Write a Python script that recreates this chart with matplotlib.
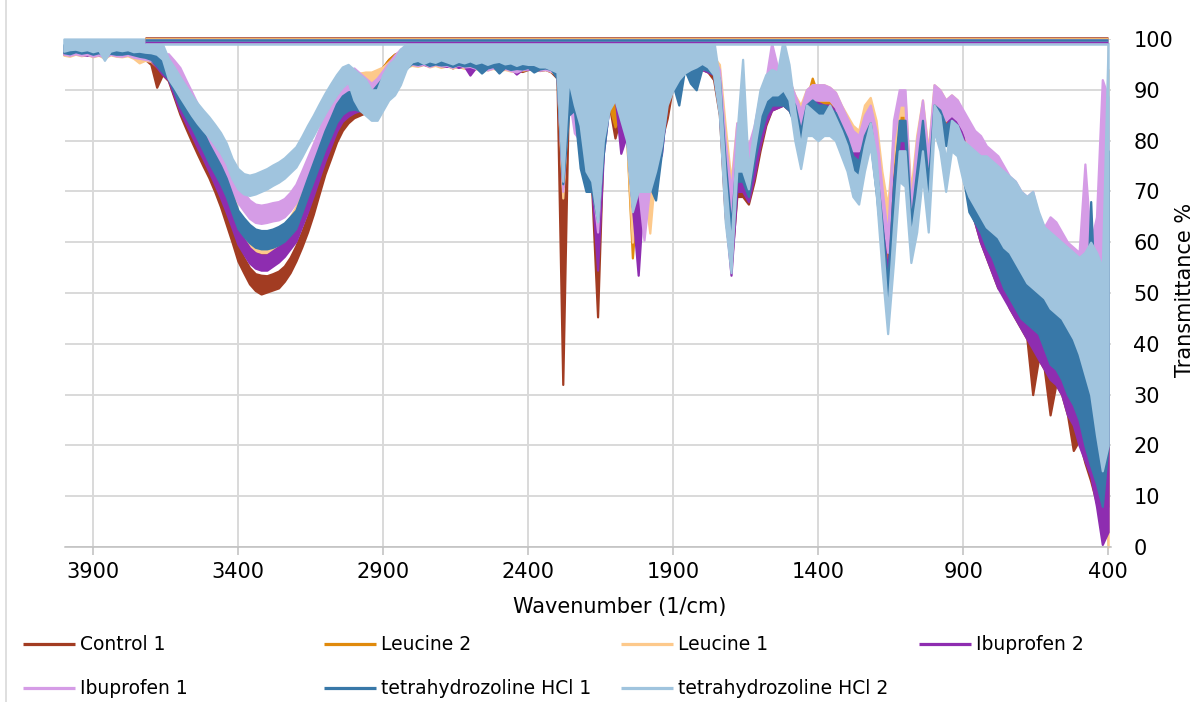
import numpy as np
import matplotlib
matplotlib.use("Agg")
import matplotlib.pyplot as plt
from matplotlib.lines import Line2D

W, H = 1194, 702

# sampled wavenumbers (1/cm), 4000 -> 400 in steps of 20 (181 points)
wavenumber = np.arange(4000, 399, -20)

series_names = ["Control 1", "Leucine 2", "Leucine 1", "Ibuprofen 2",
                "Ibuprofen 1", "tetrahydrozoline HCl 1", "tetrahydrozoline HCl 2"]
series_colors = ["#a23c22", "#e08a0c", "#fdc98b", "#8e2db0",
                 "#d59ce6", "#3878a8", "#a0c4de"]

# each spectrum is very noisy: lower / upper envelope of the trace per 20 cm-1 bin
control_1_low = [
    97.0, 96.8, 97.2, 96.9, 97.1, 96.7, 97.0, 96.5, 97.1, 96.9,
    96.8, 97.0, 96.6, 96.4, 96.0, 95.0, 90.5, 93.0, 91.8, 88.5,
    85.2, 82.5, 79.9, 77.4, 75.0, 72.7, 70.0, 67.0, 63.5, 60.0,
    56.3, 54.0, 51.8, 50.5, 49.8, 50.2, 50.6, 51.0, 52.3, 54.0,
    56.3, 59.0, 62.0, 65.5, 69.5, 73.4, 76.5, 79.7, 82.0, 83.5,
    84.5, 85.0, 85.5, 87.0, 89.5, 91.5, 93.0, 94.0, 94.5, 94.7,
    95.0, 94.8, 95.2, 94.6, 95.0, 94.7, 94.9, 94.3, 94.8, 94.5,
    94.6, 94.2, 94.5, 94.0, 94.4, 94.1, 94.3, 93.8, 94.0, 93.6,
    94.0, 94.2, 93.8, 94.0, 93.5, 92.3, 32.0, 90.0, 88.0, 83.0,
    75.0, 70.3, 45.3, 81.0, 87.0, 80.5, 85.0, 81.0, 67.0, 71.0,
    71.0, 71.0, 75.0, 80.0, 84.4, 91.0, 93.0, 94.0, 94.5, 94.5,
    94.0, 93.5, 92.0, 85.0, 65.0, 55.0, 69.0, 69.0, 67.5, 72.0,
    78.0, 83.0, 86.0, 86.5, 87.0, 86.0, 84.0, 81.0, 84.0, 85.0,
    84.0, 84.0, 84.0, 82.5, 80.0, 77.5, 75.0, 75.0, 78.0, 80.0,
    74.0, 62.0, 51.0, 68.0, 78.0, 78.0, 62.0, 72.0, 80.0, 68.0,
    84.0, 81.0, 80.0, 82.0, 80.0, 77.0, 67.0, 64.0, 60.0, 57.0,
    54.0, 51.0, 50.0, 47.0, 45.0, 43.0, 41.0, 30.0, 37.0, 35.0,
    26.0, 32.0, 30.0, 26.0, 19.0, 21.0, 16.6, 13.0, 8.7, 5.0,
    10.0,
]
control_1_high = [
    98.6, 98.4, 98.8, 98.5, 98.7, 98.3, 98.6, 98.2, 98.7, 98.5,
    98.4, 98.6, 98.2, 98.0, 97.8, 97.5, 96.5, 95.5, 94.8, 91.5,
    88.2, 85.5, 82.9, 80.4, 78.0, 75.7, 73.0, 70.0, 66.5, 63.0,
    59.3, 57.0, 55.0, 53.8, 53.5, 53.4, 53.8, 54.3, 55.3, 57.0,
    59.3, 62.0, 65.0, 68.5, 72.5, 76.4, 79.5, 82.7, 85.0, 86.5,
    87.5, 88.0, 88.5, 90.0, 92.5, 94.5, 96.0, 97.0, 97.5, 97.7,
    97.3, 97.0, 97.5, 97.2, 97.4, 97.0, 97.3, 96.8, 97.1, 96.9,
    97.0, 96.6, 96.9, 96.5, 96.8, 96.5, 96.7, 96.3, 96.5, 96.2,
    96.5, 96.6, 96.3, 96.5, 96.2, 96.0, 95.0, 95.0, 94.0, 92.0,
    90.0, 88.0, 86.0, 90.0, 93.0, 94.0, 93.0, 92.0, 90.0, 90.0,
    90.0, 90.0, 91.0, 93.0, 95.0, 96.0, 96.5, 97.0, 97.0, 97.0,
    97.0, 96.5, 95.5, 90.0, 72.0, 60.0, 72.5, 72.0, 70.0, 76.0,
    81.0, 86.5, 89.0, 89.0, 89.5, 89.0, 87.0, 84.0, 87.0, 88.0,
    87.0, 87.0, 87.0, 85.5, 83.0, 81.0, 78.0, 78.0, 81.0, 83.0,
    77.0, 66.0, 54.0, 72.0, 82.0, 82.0, 66.0, 76.0, 83.0, 72.0,
    87.0, 85.0, 83.0, 85.0, 84.0, 81.0, 76.0, 74.0, 69.0, 67.0,
    65.0, 62.0, 60.0, 58.0, 56.0, 55.0, 53.0, 51.0, 49.0, 47.0,
    45.0, 44.0, 42.0, 40.0, 38.0, 35.0, 32.0, 29.0, 25.0, 25.0,
    30.0,
]

leucine_2_low = [
    97.0, 96.8, 97.2, 96.9, 97.0, 96.8, 97.1, 96.4, 97.0, 96.8,
    96.9, 97.0, 96.6, 96.2, 96.0, 95.9, 94.8, 93.5, 92.5, 90.0,
    87.3, 85.0, 82.6, 80.2, 77.9, 75.5, 72.9, 70.3, 67.4, 64.3,
    61.1, 59.2, 57.4, 56.4, 56.0, 56.0, 56.8, 57.6, 58.7, 60.2,
    61.7, 64.6, 67.5, 70.7, 74.1, 77.5, 80.4, 83.3, 85.3, 86.3,
    87.5, 88.0, 88.5, 89.0, 90.0, 91.5, 93.0, 94.2, 94.8, 95.0,
    95.2, 94.9, 95.1, 94.7, 95.0, 94.6, 94.8, 94.5, 94.9, 94.4,
    94.6, 94.3, 94.5, 94.1, 94.4, 94.0, 94.2, 93.9, 93.8, 93.8,
    94.2, 94.3, 94.0, 94.2, 93.9, 93.5, 70.0, 89.0, 87.0, 79.7,
    72.0, 70.5, 63.0, 81.0, 87.0, 82.7, 85.0, 81.0, 56.9, 71.0,
    71.0, 71.0, 75.0, 80.0, 88.0, 91.0, 93.0, 94.0, 94.5, 95.0,
    94.3, 94.0, 93.2, 87.0, 71.0, 58.0, 76.0, 74.0, 70.0, 74.0,
    80.0, 84.0, 87.0, 87.0, 87.5, 87.0, 85.0, 83.0, 86.0, 86.0,
    86.0, 86.0, 86.0, 85.0, 82.0, 80.0, 78.0, 77.0, 80.0, 83.0,
    77.0, 65.0, 56.0, 72.0, 82.0, 82.0, 64.0, 74.0, 83.0, 72.0,
    86.0, 84.0, 82.0, 84.0, 82.0, 79.0, 76.0, 73.0, 70.0, 67.0,
    65.0, 62.0, 60.0, 58.0, 56.0, 54.0, 52.0, 50.0, 48.0, 45.0,
    43.0, 41.0, 39.0, 37.0, 35.0, 32.0, 29.0, 25.0, 20.0, 14.0,
    8.0,
]
leucine_2_high = [
    98.6, 98.5, 98.8, 98.5, 98.6, 98.4, 98.7, 98.1, 98.6, 98.4,
    98.5, 98.6, 98.2, 97.9, 97.7, 97.6, 96.8, 96.0, 95.3, 93.0,
    90.3, 88.0, 85.6, 83.2, 80.9, 78.5, 75.9, 73.3, 70.4, 67.3,
    64.1, 62.2, 60.4, 59.4, 59.0, 59.0, 59.8, 60.6, 61.7, 63.2,
    64.7, 67.6, 70.5, 73.7, 77.1, 80.5, 83.4, 86.3, 88.3, 89.3,
    90.5, 91.0, 91.5, 92.0, 93.0, 94.5, 96.0, 97.0, 97.5, 97.7,
    97.5, 97.2, 97.4, 97.0, 97.3, 96.9, 97.1, 96.8, 97.2, 96.7,
    96.9, 96.6, 96.8, 96.4, 96.7, 96.3, 96.5, 96.2, 96.1, 96.1,
    96.5, 96.6, 96.3, 96.5, 96.2, 95.8, 94.0, 94.0, 93.0, 91.0,
    90.0, 88.0, 86.0, 90.0, 93.0, 94.0, 93.0, 92.0, 90.0, 90.0,
    90.0, 90.0, 91.0, 93.0, 95.0, 96.0, 96.5, 97.0, 97.0, 97.0,
    97.2, 97.0, 96.0, 93.0, 79.0, 64.0, 80.0, 78.0, 74.0, 78.0,
    84.0, 88.0, 90.0, 90.0, 90.0, 90.0, 88.0, 86.0, 88.0, 92.3,
    89.0, 89.0, 89.0, 88.0, 85.0, 83.0, 81.0, 80.0, 84.0, 87.0,
    81.0, 70.0, 60.0, 76.0, 86.0, 86.0, 68.0, 78.0, 86.5, 76.0,
    90.0, 88.0, 86.0, 87.0, 86.0, 83.0, 80.0, 78.0, 75.0, 72.0,
    70.0, 68.0, 66.0, 64.0, 62.0, 60.0, 58.0, 56.0, 54.0, 52.0,
    50.0, 48.0, 46.0, 45.0, 44.0, 43.0, 42.0, 63.0, 40.0, 38.0,
    40.0,
]

leucine_1_low = [
    96.8, 96.6, 97.0, 96.7, 96.9, 96.5, 96.8, 96.2, 96.9, 96.6,
    96.5, 96.7, 96.2, 95.3, 95.8, 95.6, 94.6, 93.5, 93.0, 91.0,
    88.5, 86.5, 84.5, 82.2, 79.9, 77.5, 75.5, 73.3, 70.5, 67.0,
    63.0, 61.0, 59.2, 58.3, 58.0, 58.0, 58.5, 59.3, 60.5, 62.0,
    64.0, 67.1, 70.5, 73.5, 76.5, 79.5, 82.5, 85.5, 87.5, 89.0,
    90.0, 90.3, 90.5, 90.5, 91.0, 91.5, 92.5, 93.5, 94.0, 94.5,
    94.8, 94.6, 95.0, 94.5, 94.8, 94.4, 94.7, 94.3, 94.6, 94.2,
    94.5, 94.1, 94.3, 93.9, 94.2, 93.8, 94.0, 93.7, 93.6, 93.9,
    94.0, 94.2, 93.8, 94.0, 93.6, 93.0, 68.7, 89.0, 87.0, 81.0,
    75.0, 72.0, 63.0, 81.0, 87.0, 89.0, 85.0, 81.0, 60.0, 71.0,
    71.0, 61.8, 75.0, 80.0, 88.0, 91.0, 93.0, 94.0, 94.5, 95.0,
    94.2, 94.0, 93.0, 88.6, 76.0, 68.0, 80.0, 79.0, 76.0, 79.0,
    84.0, 87.0, 88.0, 88.0, 88.0, 88.0, 86.0, 84.0, 87.0, 88.0,
    88.0, 88.0, 88.0, 87.0, 84.0, 82.0, 80.0, 79.0, 83.0, 85.0,
    80.0, 70.0, 64.0, 77.0, 85.0, 85.0, 66.0, 77.0, 85.0, 74.0,
    88.0, 86.0, 84.0, 85.0, 84.0, 81.0, 78.0, 75.0, 72.0, 69.0,
    66.0, 64.0, 62.0, 60.0, 58.0, 56.0, 54.0, 52.0, 50.0, 48.0,
    46.0, 45.0, 44.0, 42.0, 41.0, 39.0, 37.0, 34.0, 30.0, 20.0,
    0.0,
]
leucine_1_high = [
    98.4, 98.2, 98.6, 98.3, 98.5, 98.1, 98.4, 97.9, 98.5, 98.2,
    98.2, 98.4, 97.9, 97.5, 97.6, 97.4, 96.8, 96.2, 96.0, 94.0,
    91.5, 89.5, 87.5, 85.2, 82.9, 80.5, 78.5, 76.3, 73.5, 70.0,
    66.0, 64.0, 62.2, 61.3, 61.0, 61.0, 61.5, 62.3, 63.5, 65.0,
    67.0, 70.1, 73.5, 76.5, 79.5, 82.5, 85.5, 88.5, 90.5, 92.0,
    93.0, 93.3, 93.5, 93.5, 94.0, 94.5, 95.5, 96.5, 97.0, 97.5,
    97.3, 97.0, 97.4, 96.9, 97.2, 96.8, 97.1, 96.7, 97.0, 96.6,
    96.9, 96.5, 96.7, 96.3, 96.6, 96.2, 96.4, 96.1, 96.0, 96.2,
    96.4, 96.6, 96.2, 96.4, 96.0, 95.6, 94.0, 94.0, 93.0, 91.0,
    90.0, 88.0, 86.0, 90.0, 93.0, 94.0, 93.0, 92.0, 90.0, 90.0,
    90.0, 90.0, 91.0, 93.0, 95.0, 96.0, 96.5, 97.0, 97.0, 97.0,
    97.5, 97.2, 96.5, 95.0, 83.0, 72.0, 83.5, 82.0, 79.0, 82.0,
    88.0, 91.0, 92.0, 92.0, 92.0, 92.0, 89.0, 87.0, 90.0, 91.0,
    91.0, 91.0, 90.5, 89.5, 87.0, 85.0, 83.0, 82.0, 87.0, 88.5,
    84.0, 74.0, 67.0, 81.0, 89.0, 88.5, 70.0, 81.0, 88.0, 78.0,
    91.0, 90.0, 88.0, 89.0, 88.0, 85.0, 82.0, 80.0, 77.0, 74.0,
    75.0, 73.0, 71.0, 69.0, 67.0, 65.0, 63.0, 61.0, 59.0, 57.0,
    55.0, 54.0, 53.0, 52.0, 51.0, 50.0, 48.0, 46.0, 44.0, 45.0,
    94.0,
]

ibuprofen_2_low = [
    97.1, 96.9, 97.3, 97.0, 96.8, 97.2, 96.9, 96.6, 97.0, 97.2,
    96.9, 97.1, 96.7, 96.5, 96.2, 95.8, 94.5, 93.0, 92.0, 88.9,
    85.8, 83.5, 81.1, 78.7, 76.4, 74.0, 71.4, 68.8, 65.9, 62.8,
    59.6, 57.7, 55.9, 54.9, 54.5, 54.5, 55.3, 56.1, 57.2, 58.7,
    60.2, 63.1, 66.0, 69.2, 72.6, 76.0, 78.9, 81.8, 83.8, 84.8,
    85.5, 85.9, 86.3, 87.3, 88.9, 90.5, 92.1, 93.7, 94.5, 94.8,
    95.1, 94.9, 95.0, 94.7, 95.1, 94.8, 94.6, 94.9, 94.4, 94.7,
    92.9, 94.4, 94.6, 94.2, 94.5, 94.0, 94.2, 94.3, 93.1, 94.0,
    94.0, 94.3, 93.9, 94.1, 93.8, 93.3, 70.9, 89.0, 87.0, 82.0,
    75.0, 71.0, 54.5, 77.5, 87.0, 89.0, 77.5, 81.0, 67.0, 53.5,
    71.0, 71.0, 75.0, 77.2, 88.0, 91.0, 93.0, 94.0, 94.5, 95.0,
    94.0, 93.5, 93.0, 86.0, 66.0, 53.5, 70.0, 70.0, 68.0, 73.0,
    79.0, 83.5, 86.0, 86.5, 87.0, 86.0, 84.0, 81.0, 84.0, 85.0,
    84.0, 84.0, 84.0, 82.5, 80.0, 78.0, 75.5, 75.0, 78.0, 80.5,
    74.0, 61.0, 51.0, 68.0, 78.0, 78.0, 62.0, 72.0, 80.0, 68.0,
    84.0, 81.0, 80.0, 82.0, 80.0, 77.0, 67.0, 64.0, 60.0, 57.0,
    54.0, 51.0, 49.0, 47.0, 45.0, 43.0, 41.0, 39.0, 37.0, 35.0,
    33.0, 32.0, 30.0, 26.0, 24.0, 20.0, 17.0, 14.0, 8.0, 0.5,
    3.0,
]
ibuprofen_2_high = [
    98.5, 98.3, 98.7, 98.4, 98.2, 98.6, 98.3, 98.0, 98.4, 98.6,
    98.3, 98.5, 98.1, 97.9, 97.7, 97.4, 96.5, 95.5, 95.0, 91.9,
    88.8, 86.5, 84.1, 81.7, 79.4, 77.0, 74.4, 71.8, 68.9, 65.8,
    62.6, 60.7, 58.9, 57.9, 57.5, 57.5, 58.3, 59.1, 60.2, 61.7,
    63.2, 66.1, 69.0, 72.2, 75.6, 79.0, 81.9, 84.8, 86.8, 87.8,
    88.5, 88.9, 89.3, 90.3, 91.9, 93.5, 95.1, 96.7, 97.5, 97.8,
    97.4, 97.2, 97.5, 97.0, 97.3, 97.1, 96.9, 97.2, 96.7, 97.0,
    96.5, 96.7, 96.9, 96.5, 96.8, 96.3, 96.5, 96.6, 96.2, 96.3,
    96.5, 96.6, 96.2, 96.4, 96.1, 95.8, 94.0, 94.0, 93.0, 91.0,
    90.0, 88.0, 86.0, 90.0, 93.0, 94.0, 93.0, 92.0, 90.0, 90.0,
    90.0, 90.0, 91.0, 93.0, 95.0, 96.0, 96.5, 97.0, 97.0, 97.0,
    97.0, 96.5, 95.5, 91.0, 74.0, 58.0, 73.5, 73.0, 71.0, 77.0,
    82.0, 87.0, 89.0, 89.0, 90.0, 89.0, 87.0, 84.0, 87.0, 88.0,
    87.5, 87.0, 87.0, 86.0, 83.5, 81.0, 78.5, 78.0, 81.0, 83.5,
    77.0, 65.0, 54.0, 72.0, 82.0, 82.0, 66.0, 76.0, 83.0, 72.0,
    87.0, 85.0, 83.0, 85.0, 84.0, 81.0, 75.0, 73.0, 71.0, 69.0,
    64.0, 62.0, 60.0, 58.0, 56.0, 54.0, 52.0, 50.0, 48.0, 46.0,
    44.0, 43.0, 41.0, 39.0, 37.0, 34.0, 31.0, 28.0, 25.0, 30.0,
    40.0,
]

ibuprofen_1_low = [
    97.0, 96.8, 97.1, 96.8, 97.0, 96.6, 96.9, 96.4, 97.0, 96.7,
    96.6, 96.9, 96.4, 96.2, 96.0, 95.8, 95.3, 94.8, 93.5, 92.2,
    90.8, 88.4, 86.1, 83.7, 81.4, 79.0, 76.9, 74.8, 72.5, 70.2,
    67.8, 66.2, 64.7, 63.9, 63.7, 63.9, 64.2, 64.4, 65.0, 66.2,
    67.8, 70.4, 73.1, 75.8, 78.7, 81.6, 83.7, 85.8, 87.7, 89.7,
    90.7, 89.7, 88.7, 87.7, 88.7, 90.2, 91.7, 93.2, 94.7, 95.2,
    95.0, 94.8, 95.1, 94.6, 95.0, 94.7, 94.8, 94.4, 94.9, 94.5,
    94.6, 94.2, 94.5, 93.9, 94.3, 94.0, 94.2, 93.8, 93.5, 94.0,
    94.1, 94.3, 93.9, 94.0, 93.7, 93.2, 70.0, 89.0, 81.5, 80.0,
    74.0, 72.0, 62.0, 81.0, 87.0, 89.0, 85.0, 81.0, 67.0, 71.0,
    60.4, 71.0, 75.0, 80.0, 88.0, 91.0, 93.0, 94.0, 94.5, 95.0,
    94.2, 94.0, 93.2, 88.0, 71.0, 64.5, 78.0, 79.0, 75.0, 79.0,
    85.0, 88.0, 89.0, 90.0, 90.0, 88.0, 86.0, 83.0, 87.0, 88.0,
    88.0, 88.0, 88.0, 86.5, 83.5, 81.0, 78.0, 78.0, 81.0, 84.0,
    77.0, 66.0, 58.0, 80.0, 87.0, 87.0, 62.0, 75.0, 85.0, 73.0,
    88.0, 86.0, 84.0, 85.0, 84.0, 82.0, 79.0, 77.0, 76.0, 73.0,
    68.0, 66.0, 63.0, 60.0, 58.0, 55.0, 53.0, 52.0, 50.0, 48.0,
    47.0, 46.0, 45.0, 44.0, 43.0, 42.0, 41.0, 40.0, 38.0, 35.0,
    30.0,
]
ibuprofen_1_high = [
    98.6, 98.4, 98.7, 98.4, 98.6, 98.2, 98.5, 98.0, 98.6, 98.3,
    98.2, 98.5, 98.0, 97.8, 97.6, 97.5, 97.3, 97.0, 97.1, 95.8,
    94.4, 92.0, 89.7, 87.3, 85.0, 82.6, 80.5, 78.4, 76.1, 73.8,
    71.4, 69.8, 68.3, 67.5, 67.3, 67.5, 67.8, 68.0, 68.6, 69.8,
    71.4, 74.0, 76.7, 79.4, 82.3, 85.2, 87.3, 89.4, 91.3, 93.3,
    94.3, 93.3, 92.3, 91.3, 92.3, 93.8, 95.3, 96.8, 98.0, 98.5,
    97.6, 97.3, 97.6, 97.1, 97.5, 97.2, 97.3, 96.9, 97.3, 96.9,
    97.0, 96.6, 96.9, 96.4, 96.7, 96.4, 96.6, 96.2, 96.0, 96.4,
    96.5, 96.6, 96.2, 96.4, 96.1, 95.8, 94.0, 94.0, 93.0, 91.0,
    90.0, 88.0, 86.0, 90.0, 93.0, 94.0, 93.0, 92.0, 90.0, 90.0,
    90.0, 90.0, 91.0, 93.0, 95.0, 96.0, 96.5, 97.0, 97.0, 97.0,
    97.5, 97.2, 96.5, 94.0, 80.0, 70.0, 83.5, 82.0, 79.0, 83.0,
    89.0, 92.0, 99.2, 94.5, 94.0, 92.0, 89.0, 86.0, 90.0, 91.0,
    91.0, 91.0, 90.5, 89.5, 87.0, 84.5, 82.0, 81.0, 85.0, 87.0,
    82.0, 71.0, 61.0, 84.0, 90.0, 90.0, 67.0, 80.0, 88.0, 77.0,
    91.0, 90.0, 88.0, 89.0, 88.0, 86.0, 84.0, 82.0, 81.0, 79.0,
    78.0, 77.0, 75.0, 73.0, 72.0, 70.0, 69.0, 70.0, 65.0, 63.0,
    65.0, 64.0, 62.0, 60.0, 59.0, 58.0, 75.4, 60.0, 65.0, 92.0,
    88.6,
]

thz_hcl_1_low = [
    97.3, 97.1, 97.5, 97.2, 97.4, 97.0, 97.3, 96.8, 97.2, 97.0,
    97.0, 97.2, 96.9, 96.6, 96.4, 96.0, 94.8, 93.5, 92.2, 89.7,
    86.8, 84.7, 82.7, 80.4, 78.1, 75.7, 73.6, 71.5, 69.0, 65.8,
    62.7, 61.2, 59.9, 59.0, 58.7, 58.7, 59.0, 59.5, 60.2, 61.4,
    62.7, 65.8, 69.0, 72.1, 75.2, 78.3, 80.9, 83.6, 85.2, 86.0,
    86.2, 85.9, 85.6, 86.0, 87.4, 88.8, 90.4, 92.0, 93.2, 94.2,
    95.2, 95.0, 95.3, 94.8, 95.1, 94.9, 95.0, 94.6, 95.0, 94.7,
    94.8, 94.4, 93.3, 94.3, 94.6, 93.3, 94.4, 94.0, 94.2, 94.1,
    94.4, 93.5, 94.1, 94.3, 94.0, 92.3, 71.5, 85.0, 86.0, 74.6,
    70.0, 70.0, 64.4, 77.5, 87.0, 89.0, 85.0, 81.0, 67.0, 71.0,
    71.0, 71.0, 68.3, 77.5, 88.0, 91.0, 87.0, 94.0, 91.3, 90.0,
    94.2, 93.8, 93.0, 86.0, 68.0, 58.5, 72.0, 72.0, 69.0, 76.0,
    81.0, 85.0, 87.0, 87.0, 87.0, 86.0, 83.0, 79.0, 84.0, 85.0,
    84.0, 84.0, 84.0, 82.5, 80.0, 77.0, 73.5, 72.5, 77.0, 80.0,
    70.0, 59.0, 48.5, 67.0, 80.0, 80.0, 60.0, 70.0, 80.0, 68.0,
    84.0, 82.0, 79.0, 80.0, 78.0, 73.0, 66.0, 64.0, 62.0, 59.0,
    57.0, 54.0, 51.0, 49.0, 47.0, 45.0, 44.0, 43.0, 42.0, 39.0,
    36.0, 35.0, 33.0, 30.0, 28.0, 25.0, 20.0, 16.0, 12.5, 8.0,
    20.0,
]
thz_hcl_1_high = [
    98.9, 98.7, 99.1, 98.8, 99.0, 98.6, 98.9, 98.4, 98.8, 98.6,
    98.6, 98.8, 98.5, 98.2, 98.0, 97.6, 96.8, 96.0, 95.8, 93.3,
    90.4, 88.3, 86.3, 84.0, 81.7, 79.3, 77.2, 75.1, 72.6, 69.4,
    66.3, 64.8, 63.5, 62.6, 62.3, 62.3, 62.6, 63.1, 63.8, 65.0,
    66.3, 69.4, 72.6, 75.7, 78.8, 81.9, 84.5, 87.2, 88.8, 89.6,
    89.8, 89.5, 89.2, 89.6, 91.0, 92.4, 94.0, 95.6, 96.8, 97.8,
    97.6, 97.4, 97.7, 97.2, 97.5, 97.3, 97.4, 97.0, 97.4, 97.1,
    97.2, 96.8, 97.0, 96.7, 97.0, 96.6, 96.8, 96.4, 96.6, 96.5,
    96.8, 96.5, 96.5, 96.7, 96.4, 96.0, 94.0, 94.0, 93.0, 91.0,
    90.0, 88.0, 86.0, 90.0, 93.0, 94.0, 93.0, 92.0, 90.0, 90.0,
    90.0, 90.0, 91.0, 93.0, 95.0, 96.0, 96.5, 97.0, 97.0, 97.0,
    97.2, 97.0, 96.0, 92.0, 76.0, 63.0, 78.0, 76.0, 72.0, 80.0,
    85.0, 88.5, 90.0, 90.0, 91.0, 89.0, 87.0, 82.0, 87.0, 88.0,
    87.0, 87.0, 86.5, 85.5, 83.0, 80.5, 77.0, 76.0, 81.0, 83.5,
    75.0, 64.0, 52.0, 71.0, 84.0, 84.0, 64.0, 74.0, 84.0, 72.0,
    87.0, 86.0, 83.0, 84.0, 83.0, 78.0, 75.0, 73.0, 71.0, 69.0,
    68.0, 66.0, 64.0, 62.0, 60.0, 58.0, 57.0, 55.0, 54.0, 52.0,
    50.0, 49.0, 47.0, 45.0, 43.0, 40.0, 37.0, 68.0, 40.0, 40.0,
    78.0,
]

thz_hcl_2_low = [
    97.6, 97.9, 98.0, 97.7, 97.9, 97.5, 97.8, 95.8, 97.6, 97.9,
    97.7, 97.9, 97.5, 97.6, 97.4, 97.3, 97.0, 96.0, 92.2, 90.5,
    88.6, 86.8, 85.0, 83.4, 82.0, 80.7, 79.2, 77.6, 75.5, 72.5,
    70.5, 69.5, 69.2, 69.5, 70.0, 70.5, 71.2, 71.8, 72.6, 73.7,
    74.8, 76.8, 79.0, 81.0, 83.2, 85.3, 87.2, 89.0, 90.5, 91.5,
    88.0, 86.0, 85.0, 84.0, 84.0, 86.0, 88.0, 89.0, 91.0, 94.0,
    95.5, 95.8, 95.2, 95.7, 95.4, 95.9, 95.5, 95.1, 95.6, 95.3,
    95.7, 95.2, 95.5, 95.0, 95.4, 95.6, 95.1, 95.3, 94.8, 95.2,
    95.0, 95.0, 94.5, 94.5, 94.0, 93.5, 72.0, 92.0, 87.0, 83.0,
    74.0, 72.0, 64.0, 80.0, 86.0, 88.0, 84.0, 80.0, 66.0, 70.0,
    70.0, 70.0, 74.0, 79.0, 87.0, 90.0, 92.0, 93.3, 94.0, 94.5,
    95.2, 94.5, 93.0, 85.0, 64.0, 54.0, 74.0, 74.0, 70.5, 78.0,
    85.0, 88.0, 89.0, 89.0, 90.0, 88.0, 80.0, 74.5, 81.0, 81.0,
    80.0, 81.0, 81.0, 80.0, 77.0, 74.0, 69.0, 67.5, 74.0, 79.0,
    70.0, 55.0, 42.0, 56.0, 72.0, 71.0, 56.0, 62.0, 73.0, 62.0,
    82.0, 78.0, 70.0, 78.0, 77.0, 72.0, 69.0, 67.0, 65.0, 63.0,
    62.0, 61.0, 59.0, 58.0, 56.0, 54.0, 52.0, 51.0, 50.0, 49.0,
    47.0, 46.0, 45.0, 43.0, 41.0, 38.0, 34.0, 30.0, 22.0, 15.0,
    20.0,
]
thz_hcl_2_high = [
    100.0, 100.0, 100.0, 100.0, 100.0, 100.0, 100.0, 100.0, 100.0, 100.0,
    100.0, 100.0, 100.0, 100.0, 100.0, 99.5, 99.5, 99.0, 96.2, 94.5,
    92.6, 90.8, 89.0, 87.4, 86.0, 84.7, 83.2, 81.6, 79.5, 76.5,
    74.5, 73.5, 73.2, 73.5, 74.0, 74.5, 75.2, 75.8, 76.6, 77.7,
    78.8, 80.8, 83.0, 85.0, 87.2, 89.3, 91.2, 93.0, 94.5, 95.0,
    94.0, 93.0, 92.0, 90.0, 90.0, 93.0, 95.0, 96.0, 98.0, 99.0,
    100.0, 100.0, 100.0, 100.0, 100.0, 100.0, 100.0, 100.0, 100.0, 100.0,
    100.0, 100.0, 100.0, 100.0, 100.0, 100.0, 100.0, 100.0, 100.0, 100.0,
    100.0, 100.0, 100.0, 100.0, 100.0, 100.0, 100.0, 100.0, 100.0, 100.0,
    100.0, 100.0, 100.0, 100.0, 100.0, 100.0, 100.0, 100.0, 100.0, 100.0,
    100.0, 100.0, 100.0, 100.0, 100.0, 100.0, 100.0, 100.0, 100.0, 100.0,
    100.0, 100.0, 100.0, 92.0, 73.0, 59.0, 81.0, 96.0, 74.0, 83.0,
    90.0, 93.0, 94.0, 93.5, 100.0, 95.0, 86.0, 79.0, 87.0, 86.0,
    85.0, 85.0, 87.0, 84.5, 82.0, 79.0, 74.0, 73.0, 79.0, 83.5,
    77.0, 62.0, 46.0, 63.0, 78.0, 78.0, 61.0, 69.0, 78.0, 67.0,
    87.0, 85.0, 76.0, 84.0, 83.0, 80.0, 79.0, 78.0, 77.0, 77.0,
    76.0, 75.0, 74.0, 73.0, 72.0, 70.0, 69.0, 70.0, 66.0, 63.0,
    62.0, 61.0, 60.0, 59.0, 58.0, 57.0, 58.0, 60.0, 58.0, 55.0,
    99.2,
]

# each trace also returns along the top of the chart (from 400 back to 3720 1/cm)
return_level = [100.1, 100.0, 100.0, 99.5, 99.8, 99.9, 99.1]
return_span = [400, 3720]

lows = [control_1_low, leucine_2_low, leucine_1_low, ibuprofen_2_low,
        ibuprofen_1_low, thz_hcl_1_low, thz_hcl_2_low]
highs = [control_1_high, leucine_2_high, leucine_1_high, ibuprofen_2_high,
         ibuprofen_1_high, thz_hcl_1_high, thz_hcl_2_high]
for lo, hi in zip(lows, highs):
    assert len(lo) == len(wavenumber) and len(hi) == len(wavenumber), (len(lo), len(hi))

x_ticks = [3900, 3400, 2900, 2400, 1900, 1400, 900, 400]
y_ticks = [0, 10, 20, 30, 40, 50, 60, 70, 80, 90, 100]

plt.rcParams["font.family"] = ["DejaVu Sans"]
fig = plt.figure(figsize=(W / 100, H / 100), dpi=100)
ax = fig.add_axes([65 / W, 1 - 547 / H, (1111 - 65) / W, (547 - 39) / H])

for name, col, lo, hi, lvl in zip(series_names, series_colors, lows, highs, return_level):
    ax.plot(return_span, [lvl, lvl], color=col, lw=1.8, clip_on=False, solid_capstyle="butt")
    ax.fill_between(wavenumber, lo, hi, color=col, lw=1.6, clip_on=False)

ax.set_xlim(3996, 390)
ax.set_ylim(0, 100)
ax.set_xticks(x_ticks)
ax.set_xticklabels([str(t) for t in x_ticks])
ax.set_yticks(y_ticks)
ax.set_yticklabels([str(t) for t in y_ticks])

for s in ["top", "left", "right"]:
    ax.spines[s].set_visible(False)
ax.spines["bottom"].set_color("#bfbfbf")
ax.spines["bottom"].set_linewidth(1.1)

ax.grid(True, color="#d9d9d9", lw=1.4)
ax.set_axisbelow(True)

ax.tick_params(axis="x", direction="out", length=5.8, width=1.1, color="#bfbfbf",
               pad=5, labelsize=15, labelcolor="black")
ax.tick_params(axis="y", length=0, pad=16, labelsize=15, labelcolor="black",
               left=False, right=False, labelleft=False, labelright=True)

ax.set_xlabel("Wavenumber (1/cm)", fontsize=15)
ax.xaxis.set_label_coords(0.5306, -0.118)
ax.xaxis.label.set_va("center")

ax.set_ylabel("Transmittance %", fontsize=15)
ax.yaxis.set_label_position("right")
ax.yaxis.set_label_coords(1.0707, 0.506)
ax.yaxis.label.set_va("center")
ax.yaxis.label.set_ha("center")
ax.yaxis.label.set_rotation(90)

# chart-area border on the left
fig.add_artist(Line2D([6 / W, 6 / W], [0, 1], color="#d9d9d9", lw=1.2))

# legend (two rows, four columns) at the bottom
leg_x = [23, 324, 621, 919]
leg_y = [644, 688]
for i, (name, col) in enumerate(zip(series_names, series_colors)):
    r, c = divmod(i, 4)
    x0 = leg_x[c]
    yy = 1 - leg_y[r] / H
    fig.add_artist(Line2D([x0 / W, (x0 + 52) / W], [yy, yy], color=col, lw=2.3,
                          solid_capstyle="butt"))
    fig.text((x0 + 57) / W, yy, name, ha="left", va="center", fontsize=13.5, color="black")

fig.savefig("out.png", dpi=100)
